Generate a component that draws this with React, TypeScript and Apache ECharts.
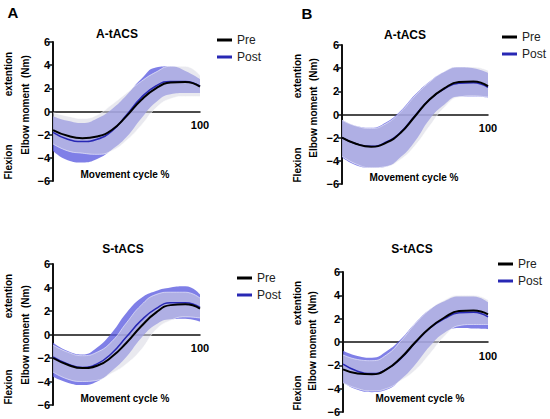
import React, { useEffect, useRef } from "react";
import * as echarts from "echarts";

// Movement cycle (%) sample points
const cycle = [0, 10, 20, 30, 40, 50, 60, 70, 80, 90, 100];
const yTicks = [-6, -4, -2, 0, 2, 4, 6];

// Panel A, A-tACS
const aTopPreMean = [-1.6, -2.1, -2.3, -2.15, -1.6, -0.4, 1.0, 2.0, 2.5, 2.55, 2.15];
const aTopPreUpper = [-0.1, -0.4, -0.6, -0.3, 0.6, 1.6, 2.6, 3.4, 3.9, 3.9, 3.1];
const aTopPreLower = [-2.8, -3.4, -3.6, -3.7, -3.4, -2.5, -1.2, 0.3, 1.1, 1.3, 1.3];
const aTopPostMean = [-1.8, -2.4, -2.6, -2.4, -1.7, -0.3, 1.2, 2.2, 2.6, 2.6, 2.2];
const aTopPostUpper = [-0.4, -0.8, -1.0, -0.6, 0.2, 1.4, 2.8, 3.8, 3.9, 3.5, 2.8];
const aTopPostLower = [-3.4, -4.2, -4.4, -4.1, -3.3, -2.2, -0.6, 0.8, 1.5, 1.6, 1.6];

// Panel B, A-tACS
const bTopPreMean = [-2.0, -2.55, -2.78, -2.45, -1.6, -0.15, 1.3, 2.25, 2.8, 2.85, 2.45];
const bTopPreUpper = [-0.5, -1.0, -1.2, -0.8, 0.2, 1.6, 2.8, 3.7, 4.1, 4.1, 3.8];
const bTopPreLower = [-3.6, -4.3, -4.6, -4.5, -3.9, -2.7, -1.0, 0.6, 1.5, 1.6, 1.5];
const bTopPostMean = [-2.0, -2.55, -2.75, -2.4, -1.55, -0.1, 1.3, 2.2, 2.7, 2.75, 2.35];
const bTopPostUpper = [-0.45, -1.0, -1.15, -0.7, 0.3, 1.7, 2.85, 3.7, 4.1, 4.0, 3.6];
const bTopPostLower = [-3.7, -4.4, -4.6, -4.5, -3.7, -2.3, -0.4, 0.85, 1.55, 1.55, 1.45];

// Panel A, S-tACS
const aBotPreMean = [-2.0, -2.57, -2.86, -2.66, -1.9, -0.7, 0.7, 1.86, 2.5, 2.57, 2.2];
const aBotPreUpper = [-0.9, -1.5, -1.8, -1.5, -0.6, 1.0, 2.5, 3.4, 3.6, 3.6, 3.1];
const aBotPreLower = [-3.2, -3.8, -4.0, -3.9, -3.3, -2.5, -1.3, 0.4, 1.2, 1.5, 1.4];
const aBotPostMean = [-1.9, -2.5, -2.8, -2.5, -1.6, -0.2, 1.2, 2.2, 2.7, 2.7, 2.3];
const aBotPostUpper = [-0.7, -1.4, -1.7, -1.1, 0.15, 1.85, 3.1, 3.7, 4.0, 4.1, 3.4];
const aBotPostLower = [-3.6, -4.1, -4.3, -4.0, -3.1, -1.9, -0.3, 0.85, 1.3, 1.35, 1.1];

// Panel B, S-tACS
const bBotPreMean = [-2.35, -2.7, -2.77, -2.35, -1.35, 0.0, 1.23, 2.1, 2.65, 2.7, 2.37];
const bBotPreUpper = [-1.1, -1.5, -1.6, -1.1, 0.1, 1.6, 2.8, 3.6, 4.0, 4.0, 3.6];
const bBotPreLower = [-3.5, -4.0, -4.2, -4.0, -3.3, -2.4, -1.0, 0.5, 1.4, 1.5, 1.5];
const bBotPostMean = [-1.9, -2.5, -2.7, -2.35, -1.4, -0.05, 1.2, 2.0, 2.5, 2.55, 2.15];
const bBotPostUpper = [-0.75, -1.2, -1.35, -0.8, 0.25, 1.65, 2.8, 3.5, 3.9, 3.9, 3.4];
const bBotPostLower = [-3.5, -4.1, -4.3, -4.1, -3.2, -1.9, -0.35, 0.8, 1.2, 1.15, 1.1];

const FONT = "Liberation Sans, Arial, Helvetica, sans-serif";

const panels = [
  {
    title: "A-tACS", preMean: aTopPreMean, preUpper: aTopPreUpper, preLower: aTopPreLower,
    postMean: aTopPostMean, postUpper: aTopPostUpper, postLower: aTopPostLower,
    grid: { left: 53, top: 42, width: 147, height: 139 },
    titlePos: [117, 34], movePos: [125, 174],
    extPos: [8, 74], flexPos: [8, 162], elbowPos: [25, 105],
    legend: { left: 212, top: 29 },
  },
  {
    title: "A-tACS", preMean: bTopPreMean, preUpper: bTopPreUpper, preLower: bTopPreLower,
    postMean: bTopPostMean, postUpper: bTopPostUpper, postLower: bTopPostLower,
    grid: { left: 342, top: 45, width: 146, height: 139 },
    titlePos: [405, 35], movePos: [414, 177],
    extPos: [297, 76], flexPos: [297, 165], elbowPos: [313, 108],
    legend: { left: 497, top: 26 },
  },
  {
    title: "S-tACS", preMean: aBotPreMean, preUpper: aBotPreUpper, preLower: aBotPreLower,
    postMean: aBotPostMean, postUpper: aBotPostUpper, postLower: aBotPostLower,
    grid: { left: 53, top: 264, width: 147, height: 141 },
    titlePos: [123, 249], movePos: [125, 398],
    extPos: [8, 296], flexPos: [8, 387], elbowPos: [25, 335],
    legend: { left: 232, top: 267 },
  },
  {
    title: "S-tACS", preMean: bBotPreMean, preUpper: bBotPreUpper, preLower: bBotPreLower,
    postMean: bBotPostMean, postUpper: bBotPostUpper, postLower: bBotPostLower,
    grid: { left: 343, top: 272, width: 145, height: 140 },
    titlePos: [412, 249], movePos: [420, 398],
    extPos: [297, 303], flexPos: [297, 393], elbowPos: [312, 341],
    legend: { left: 493, top: 253 },
  },
];

const POST_BAND = "rgba(95,95,225,0.8)";
const PRE_BAND = "rgba(215,215,225,0.55)";
const PRE_EDGE = "rgba(255,255,255,0.55)";
const PRE_LINE = "#000000";
const POST_LINE = "#2828b4";
const SMOOTH = 0.5;

function bandSeries(idx: number, key: string, lower: number[], upper: number[], color: string, edge?: string) {
  const common = {
    type: "line",
    xAxisIndex: idx,
    yAxisIndex: idx,
    stack: key + "Stack" + idx,
    stackStrategy: "all",
    smooth: SMOOTH,
    symbol: "none",
    silent: true,
    lineStyle: edge ? { color: edge, width: 1 } : { opacity: 0 },
  };
  return [
    { ...common, name: key + "Base" + idx, data: lower.slice() },
    {
      ...common,
      name: key + "Band" + idx,
      data: upper.map((u, i) => +(u - lower[i]).toFixed(3)),
      areaStyle: { color, opacity: 1 },
    },
  ];
}

export default function App() {
  const ref = useRef<HTMLDivElement>(null);

  useEffect(() => {
    if (!ref.current) return;
    const chart = echarts.init(ref.current, undefined, { renderer: "svg" });

    const grids = panels.map((p) => ({ ...p.grid, containLabel: false }));
    const xAxes = panels.map((p, i) => ({
      type: "category",
      gridIndex: i,
      data: cycle.map(String),
      boundaryGap: false,
      offset: -p.grid.height / 2,
      axisLine: { show: true, onZero: false, lineStyle: { color: "#111", width: 1.5 } },
      axisTick: { show: false },
      splitLine: { show: false },
      axisLabel: {
        show: true,
        interval: 0,
        margin: 8,
        formatter: (v: string) => (v === "100" ? "100" : ""),
        fontSize: 11,
        fontWeight: "bold",
        color: "#000",
        fontFamily: FONT,
      },
    }));
    const yAxes = panels.map((p, i) => ({
      type: "value",
      gridIndex: i,
      min: yTicks[0],
      max: yTicks[yTicks.length - 1],
      interval: 2,
      axisLine: { show: true, onZero: false, lineStyle: { color: "#111", width: 2 } },
      axisTick: { show: true, length: 4, lineStyle: { color: "#111", width: 1.5 } },
      splitLine: { show: false },
      axisLabel: {
        margin: 3,
        fontSize: 11,
        fontWeight: "bold",
        color: "#000",
        fontFamily: FONT,
        formatter: (v: number) => String(v).replace("-", "\u2212"),
      },
    }));

    const series: any[] = [];
    panels.forEach((p, i) => {
      series.push(...bandSeries(i, "post", p.postLower, p.postUpper, POST_BAND));
      series.push(...bandSeries(i, "pre", p.preLower, p.preUpper, PRE_BAND, PRE_EDGE));
      series.push({
        type: "line", name: "Post", xAxisIndex: i, yAxisIndex: i, smooth: SMOOTH, symbol: "none",
        data: p.postMean.slice(),
        lineStyle: { color: POST_LINE, width: 1.5 }, itemStyle: { color: POST_LINE },
      });
      series.push({
        type: "line", name: "Pre", xAxisIndex: i, yAxisIndex: i, smooth: SMOOTH, symbol: "none",
        data: p.preMean.slice(),
        lineStyle: { color: PRE_LINE, width: 2 }, itemStyle: { color: PRE_LINE },
      });
    });

    const legends = panels.map((p) => ({
      data: ["Pre", "Post"],
      orient: "vertical",
      left: p.legend.left,
      top: p.legend.top,
      icon: "rect",
      itemWidth: 15,
      itemHeight: 3,
      itemGap: 5,
      selectedMode: false,
      textStyle: { fontSize: 12, color: "#222", fontFamily: FONT },
    }));

    const txt = (text: string, pos: number[], size: number, bold: boolean, rotate = false) => ({
      type: "text",
      x: pos[0],
      y: pos[1],
      rotation: rotate ? Math.PI / 2 : 0,
      style: {
        text,
        x: 0,
        y: 0,
        fill: "#000",
        fontSize: size,
        fontWeight: bold ? "bold" : "normal",
        fontFamily: FONT,
        textAlign: "center",
        textVerticalAlign: "middle",
      },
      silent: true,
    });

    const graphics: any[] = [txt("A", [13, 12], 15, true), txt("B", [307, 13], 15, true)];
    panels.forEach((p) => {
      graphics.push(txt(p.title, p.titlePos, 12, true));
      graphics.push(txt("Movement cycle %", p.movePos, 10, true));
      graphics.push(txt("extention", p.extPos, 10, true, true));
      graphics.push(txt("Flexion", p.flexPos, 10, true, true));
      graphics.push(txt("Elbow moment  (Nm)", p.elbowPos, 10, true, true));
    });

    chart.setOption({
      animation: false,
      backgroundColor: "#ffffff",
      grid: grids,
      xAxis: xAxes,
      yAxis: yAxes,
      legend: legends,
      series,
      graphic: graphics,
    });

    return () => chart.dispose();
  }, []);

  return (
    <div
      ref={ref}
      style={{ position: "absolute", left: 0, top: 0, width: 550, height: 419, background: "#fff" }}
    />
  );
}
